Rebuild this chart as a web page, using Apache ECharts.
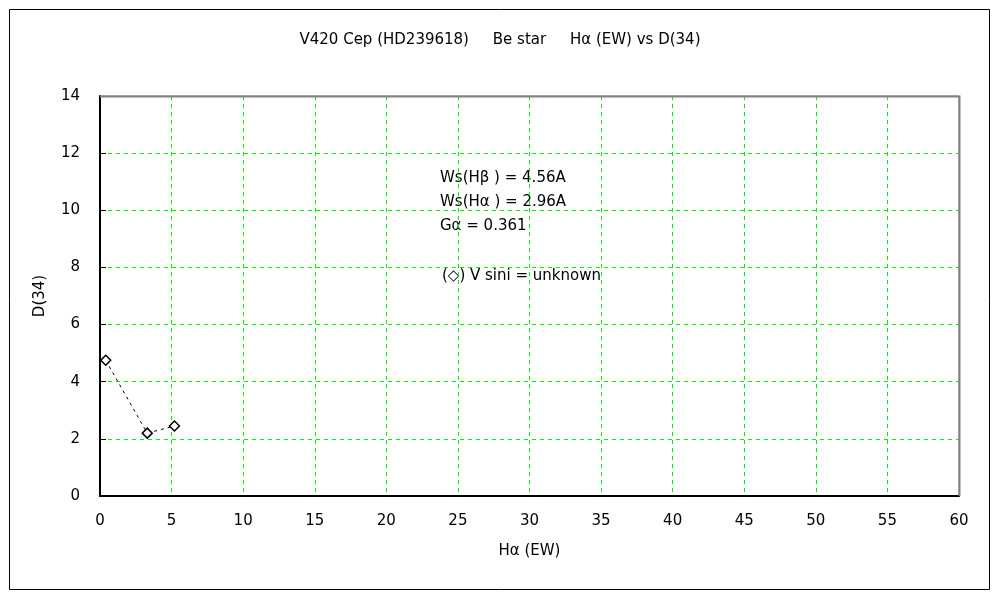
<!DOCTYPE html>
<html>
<head>
<meta charset="utf-8">
<script src="https://cdn.jsdelivr.net/npm/echarts@6/dist/echarts.min.js"></script>
<style>html,body{margin:0;padding:0;background:#fff}#c{width:1000px;height:600px}</style>
</head>
<body>
<div id="c"></div>
<script>
const titleText = 'V420 Cep (HD239618)     Be star     Hα (EW) vs D(34)';
const xName = 'Hα (EW)';
const yName = 'D(34)';
const haEW = [0.4, 3.3, 5.2];
const d34 = [4.75, 2.2, 2.45];
const notes = ['Ws(Hβ ) = 4.56A', 'Ws(Hα ) = 2.96A', 'Gα = 0.361', '(◇) V sini = unknown'];

const font = 'DejaVu Sans, Liberation Sans, sans-serif';
const chart = echarts.init(document.getElementById('c'), null, {renderer: 'canvas'});
const points = haEW.map((x, i) => [x, d34[i]]);
const grid = {color: '#00ee00', type: [4, 4], width: 1};
chart.setOption({
  animation: false,
  backgroundColor: '#fff',
  title: {text: titleText, left: 'center', top: 28, textStyle: {fontFamily: font, fontSize: 15, fontWeight: 'normal', color: '#000'}},
  grid: {left: 100, top: 96, right: 41, bottom: 104, show: true, borderColor: '#808080', borderWidth: 1},
  xAxis: {
    type: 'value', min: 0, max: 60, interval: 5,
    name: xName, nameLocation: 'middle', nameGap: 48,
    nameTextStyle: {fontFamily: font, fontSize: 15, color: '#000'},
    axisLine: {show: true, onZero: false, lineStyle: {color: '#000', width: 2}},
    axisTick: {show: false},
    axisLabel: {fontFamily: font, fontSize: 15, color: '#000', margin: 18},
    splitLine: {show: true, lineStyle: grid}
  },
  yAxis: {
    type: 'value', min: 0, max: 14, interval: 2,
    name: yName, nameLocation: 'middle', nameGap: 52,
    nameTextStyle: {fontFamily: font, fontSize: 15, color: '#000'},
    axisLine: {show: true, onZero: false, lineStyle: {color: '#000', width: 2}},
    axisTick: {show: true, inside: true, length: 6, lineStyle: {color: '#000'}},
    axisLabel: {fontFamily: font, fontSize: 15, color: '#000', margin: 20},
    splitLine: {show: true, lineStyle: grid}
  },
  graphic: [
    {type: 'rect', shape: {x: 9.5, y: 9.5, width: 980, height: 580}, style: {fill: 'none', stroke: '#000', lineWidth: 1}, silent: true, z: -1},
    {type: 'polyline', shape: {points: [[100, 96.5], [959.5, 96.5], [959.5, 496]]}, style: {fill: 'none', stroke: '#808080', lineWidth: 2}, silent: true, z: 100},
    {type: 'text', left: 440, top: 171, style: {text: notes[0], font: '15px ' + font, fill: '#000'}},
    {type: 'text', left: 440, top: 195, style: {text: notes[1], font: '15px ' + font, fill: '#000'}},
    {type: 'text', left: 440, top: 219, style: {text: notes[2], font: '15px ' + font, fill: '#000'}},
    {type: 'text', left: 442, top: 269, style: {text: notes[3], font: '15px ' + font, fill: '#000'}}
  ],
  series: [{
    type: 'line',
    data: points,
    symbol: 'diamond',
    symbolSize: 10,
    showAllSymbol: true,
    lineStyle: {color: '#000', width: 1, type: [3, 4]},
    itemStyle: {color: '#fff', borderColor: '#000', borderWidth: 1.5}
  }]
});
</script>
</body>
</html>
